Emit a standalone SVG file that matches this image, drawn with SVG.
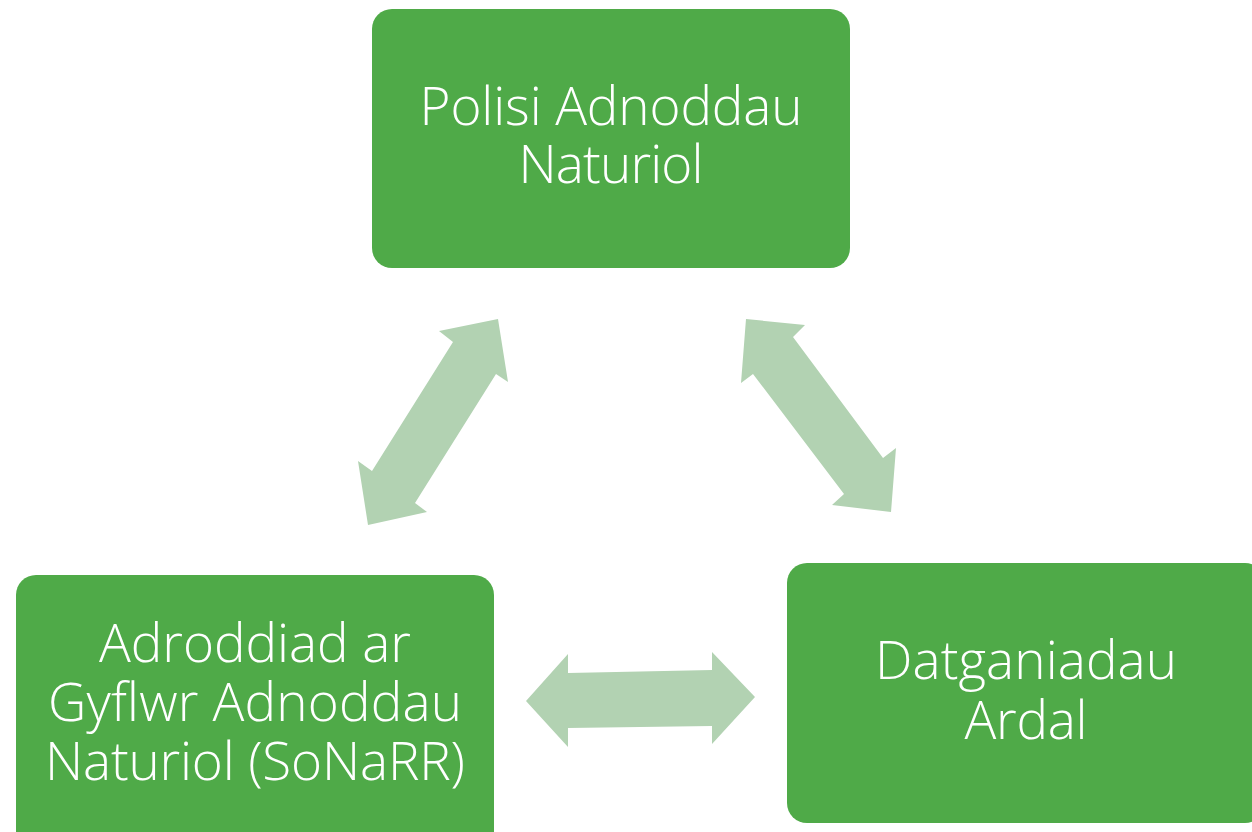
<svg xmlns="http://www.w3.org/2000/svg" width="1252" height="832" viewBox="0 0 1252 832">
<style>
.box{fill:#4faa48}
.lbl{fill:#ffffff;font-family:"Open Sans","Lato",sans-serif;font-weight:300;font-size:53px;text-anchor:middle}
.arr{fill:#b2d2b2}
</style>
<rect width="1252" height="832" fill="#ffffff"/>
<g id="connectors">
<polygon class="arr" points="498,319 508,382 496,374 415,503 427,512 368,525 358,461 372,471 453,342 439,331"/>
<polygon class="arr" points="746,319 805,325 793,337 883,458 896,448 891,512 832,505 844,494 753,374 741,383"/>
<polygon class="arr" points="526,701 568,654 568,673 712,670 712,652 755,697 712,744 712,726 568,728 568,747"/>
</g>
<g id="node-polisi">
<rect class="box" x="372" y="9" width="478" height="259" rx="20"/>
<text class="lbl" x="611" y="125" textLength="383">Polisi Adnoddau</text>
<text class="lbl" x="611" y="183" textLength="185">Naturiol</text>
</g>
<g id="node-sonarr">
<rect class="box" x="16" y="575" width="478" height="280" rx="20"/>
<text class="lbl" x="255" y="662" textLength="312">Adroddiad ar</text>
<text class="lbl" x="255" y="721" textLength="414">Gyflwr Adnoddau</text>
<text class="lbl" x="255" y="780" textLength="420">Naturiol (SoNaRR)</text>
</g>
<g id="node-datganiadau">
<rect class="box" x="787" y="563" width="478" height="260" rx="20"/>
<text class="lbl" x="1026" y="679" textLength="302">Datganiadau</text>
<text class="lbl" x="1026" y="739" textLength="123">Ardal</text>
</g>
</svg>
